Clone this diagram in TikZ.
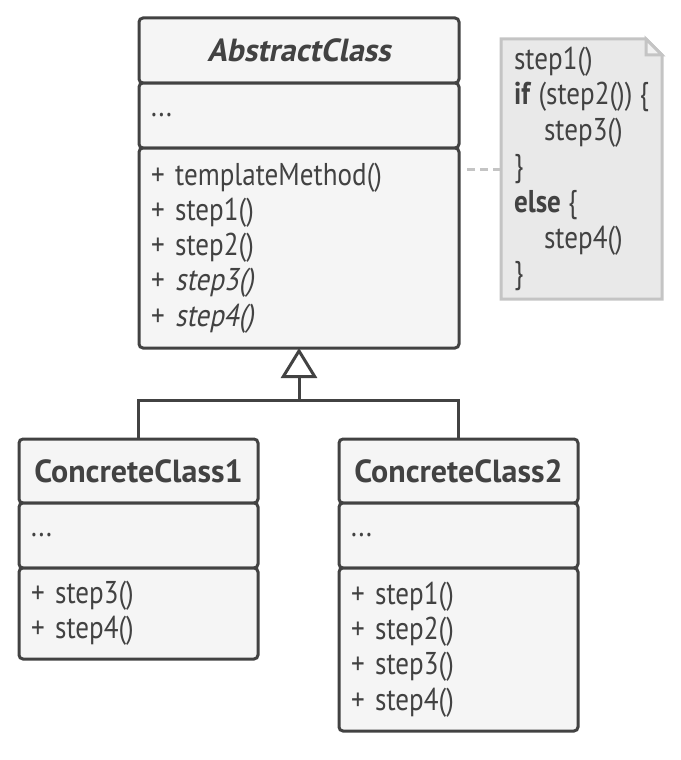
\documentclass[tikz,border=0pt]{standalone}
\usepackage{fontspec}
\setmainfont{PT Sans}[FakeStretch=0.86]
\newfontfamily\obliquefont{PT Sans}[FakeStretch=0.86, FakeSlant=0.2]
\newfontfamily\titlefont{PT Sans}
\newfontfamily\titleoblique{PT Sans}[FakeSlant=0.2]
\usetikzlibrary{positioning,arrows.meta,backgrounds}

\definecolor{umlline}{HTML}{424242}
\definecolor{umlfill}{HTML}{F5F5F5}
\definecolor{notefill}{HTML}{E9E9E9}
\definecolor{noteline}{HTML}{C4C4C4}
\definecolor{notefold}{HTML}{F2F2F2}

\tikzset{
  section/.style={draw=umlline, fill=umlfill, line width=3pt, rounded corners=4pt,
    outer sep=0pt, anchor=north west, inner xsep=12pt, inner ysep=0pt,
    text=umlline, align=left, font=\fontsize{31.5}{35.2}\selectfont},
  classname/.style={section, align=center, font=\titlefont\fontsize{32}{34}\selectfont\bfseries},
  abswide/.style={minimum width=320pt, text width=296pt},
  ccwide/.style={minimum width=239pt, text width=215pt},
  notetext/.style={minimum width=161pt, minimum height=260pt,
    inner xsep=11pt, inner ysep=0pt, outer sep=0pt, align=left, text=umlline,
    font=\fontsize{31.5}{35.8}\selectfont},
  notebox/.style={draw=noteline, fill=notefill, line width=3pt, line join=miter},
  notelink/.style={draw=noteline, line width=3pt, dash pattern=on 8pt off 5pt},
  inherit/.style={draw=umlline, line width=3pt,
    -{Triangle[open, length=30pt, width=36pt, line width=3pt]}},
  inheritline/.style={draw=umlline, line width=3pt}
}

\begin{document}
\begin{tikzpicture}[x=1pt,y=-1pt]
  \useasboundingbox (0,0) rectangle (680,760);

  % AbstractClass
  \node[classname, abswide, minimum height=65pt] (abs-name) at (139,18) {\titleoblique\bfseries AbstractClass};
  \node[section, abswide, minimum height=65pt, below=0pt of abs-name] (abs-attr) {...};
  \node[section, abswide, minimum height=200pt, below=0pt of abs-attr] (abs-ops)
    {+ templateMethod()\\+ step1()\\+ step2()\\+ {\obliquefont step3()}\\+ {\obliquefont step4()}};

  % ConcreteClass1
  \node[classname, ccwide, minimum height=64pt] (cc1-name) at (19,439) {ConcreteClass1};
  \node[section, ccwide, minimum height=65pt, below=0pt of cc1-name] (cc1-attr) {...};
  \node[section, ccwide, minimum height=91pt, below=0pt of cc1-attr] (cc1-ops)
    {+ step3()\\+ step4()};

  % ConcreteClass2
  \node[classname, ccwide, minimum height=64pt] (cc2-name) at (339,439) {ConcreteClass2};
  \node[section, ccwide, minimum height=65pt, below=0pt of cc2-name] (cc2-attr) {...};
  \node[section, ccwide, minimum height=163pt, below=0pt of cc2-attr] (cc2-ops)
    {+ step1()\\+ step2()\\+ step3()\\+ step4()};

  % inheritance
  \coordinate (joint) at (299,400);
  \draw[inherit] (cc1-name.north) |- (joint) -- (abs-ops.south);
  \draw[inheritline] (cc2-name.north) |- (joint);

  % note with the template method body
  \node[notetext] (note) at (581.5,169)
    {step1()\\\textbf{if} (step2()) \{\\\hspace*{30pt}step3()\\\}\\\textbf{else} \{\\\hspace*{30pt}step4()\\\}};
  \begin{scope}[on background layer]
    \draw[notebox] (note.south west) -- (note.north west) -- ([xshift=-16pt]note.north east)
      -- ([yshift=-16pt]note.north east) -- (note.south east) -- cycle;
    \draw[notebox, fill=notefold] ([xshift=-16pt]note.north east) |- ([yshift=-16pt]note.north east) -- cycle;
  \end{scope}
  \draw[notelink] (note.west) -- ([xshift=4pt]note.west -| abs-ops.east);
\end{tikzpicture}
\end{document}
